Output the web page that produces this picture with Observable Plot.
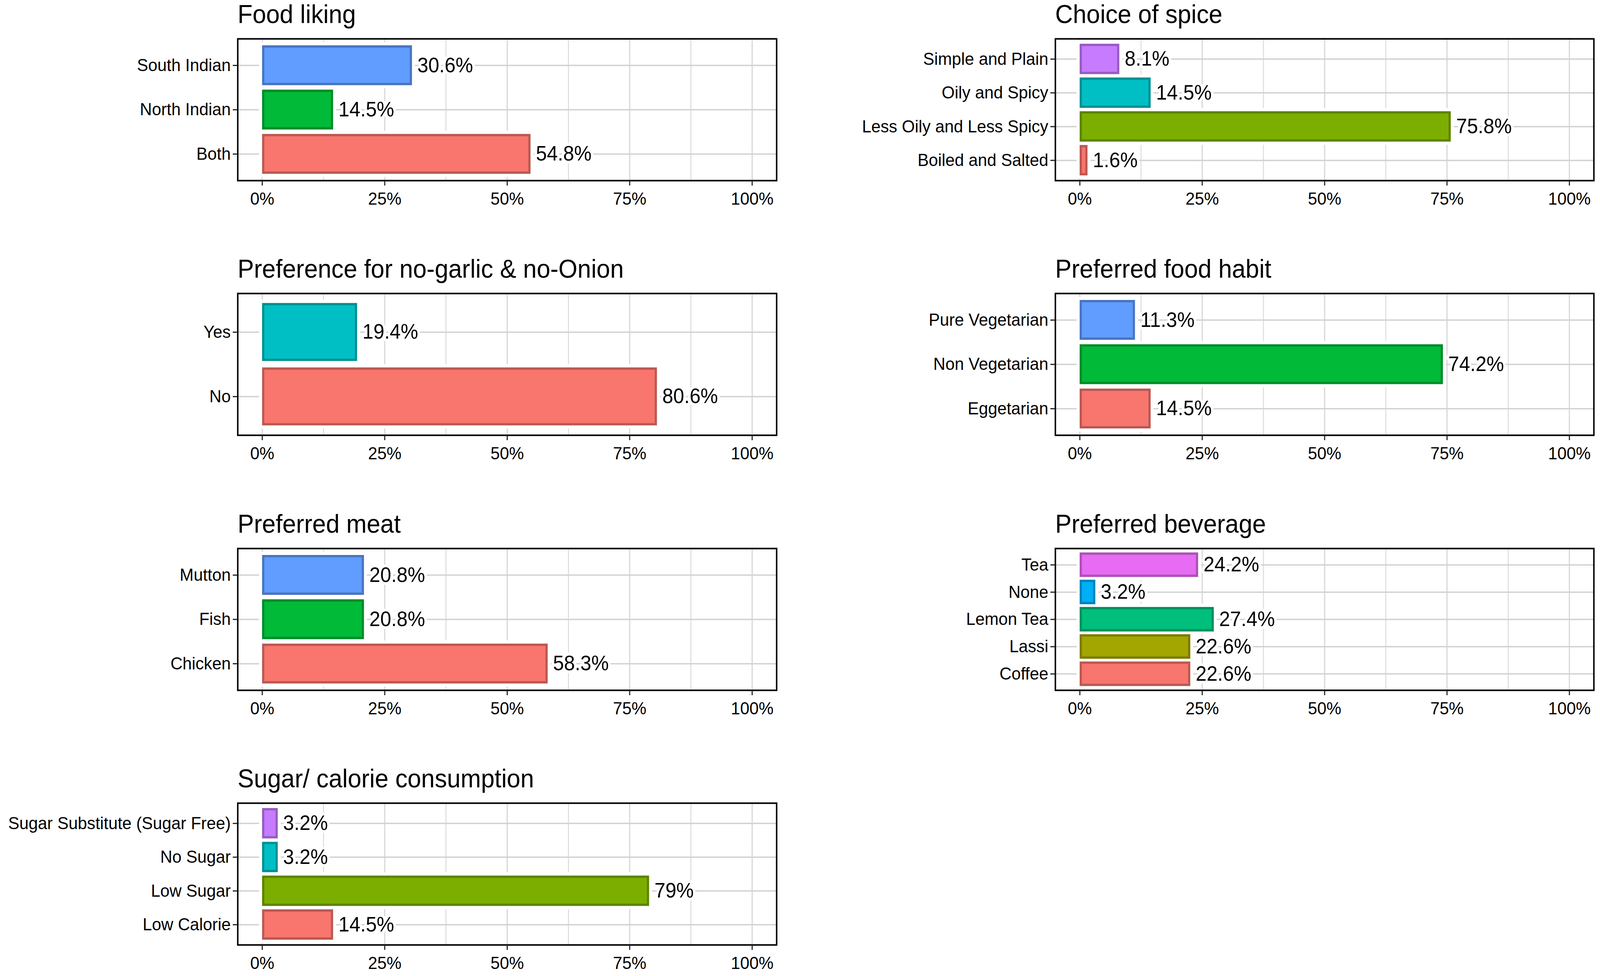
<!DOCTYPE html>
<html><head><meta charset="utf-8">
<script src="https://cdn.jsdelivr.net/npm/d3@7"></script>
<script src="https://cdn.jsdelivr.net/npm/@observablehq/plot@0.6"></script>
<style>
html,body{margin:0;padding:0;background:#fff;overflow:hidden;}
#root{position:relative;width:4317px;height:2499px;overflow:hidden;font-family:"Liberation Sans",Arial,sans-serif;background:#fff;transform-origin:0 0;}
.title{position:absolute;font-size:66px;line-height:1;color:#000;white-space:nowrap;}
.panel{position:absolute;}
</style></head><body><div id="root"></div>
<script>
// ---- data ----
const foodLikingCats = ["South Indian", "North Indian", "Both"];
const foodLikingVals = [30.6, 14.5, 54.8];

const spiceCats = ["Simple and Plain", "Oily and Spicy", "Less Oily and Less Spicy", "Boiled and Salted"];
const spiceVals = [8.1, 14.5, 75.8, 1.6];

const garlicCats = ["Yes", "No"];
const garlicVals = [19.4, 80.6];

const habitCats = ["Pure Vegetarian", "Non Vegetarian", "Eggetarian"];
const habitVals = [11.3, 74.2, 14.5];

const meatCats = ["Mutton", "Fish", "Chicken"];
const meatVals = [20.8, 20.8, 58.3];

const beverageCats = ["Tea", "None", "Lemon Tea", "Lassi", "Coffee"];
const beverageVals = [24.2, 3.2, 27.4, 22.6, 22.6];

const sugarCats = ["Sugar Substitute (Sugar Free)", "No Sugar", "Low Sugar", "Low Calorie"];
const sugarVals = [3.2, 3.2, 79, 14.5];

const xTicks = [0, 25, 50, 75, 100];
const xMinor = [12.5, 37.5, 62.5, 87.5];

// ggplot default hue palettes (by number of levels, alphabetical order)
const huePalettes = {
  2: ["#F8766D", "#00BFC4"],
  3: ["#F8766D", "#00BA38", "#619CFF"],
  4: ["#F8766D", "#7CAE00", "#00BFC4", "#C77CFF"],
  5: ["#F8766D", "#A3A500", "#00BF7D", "#00B0F6", "#E76BF3"]
};

const panels = [
  {title: "Food liking", cats: foodLikingCats, vals: foodLikingVals, col: 0, row: 0},
  {title: "Choice of spice", cats: spiceCats, vals: spiceVals, col: 1, row: 0},
  {title: "Preference for no-garlic & no-Onion", cats: garlicCats, vals: garlicVals, col: 0, row: 1},
  {title: "Preferred food habit", cats: habitCats, vals: habitVals, col: 1, row: 1},
  {title: "Preferred meat", cats: meatCats, vals: meatVals, col: 0, row: 2},
  {title: "Preferred beverage", cats: beverageCats, vals: beverageVals, col: 1, row: 2},
  {title: "Sugar/ calorie consumption", cats: sugarCats, vals: sugarVals, col: 0, row: 3}
];

// ---- layout (in 4317 x 2499 design space) ----
const rowBoxTop = [99, 751, 1404, 2056];
const boxH = 363;
const colLayout = [
  {left: 0, width: 2158, marginLeft: 641, marginRight: 63},
  {left: 2158, width: 2159, marginLeft: 689, marginRight: 17}
];
const mTop = 20, mBottom = 80;
const FONT = "'Liberation Sans', Arial, sans-serif";

const root = document.getElementById("root");
// fit the design width into the actual viewport width
const sx = Math.min(1, (window.innerWidth || 4317) / 4317);
const sy = Math.min(1, (window.innerHeight || 2499) / 2499);
root.style.transform = `scale(${sx}, ${sy})`;

for (const p of panels) {
  const cl = colLayout[p.col];
  const boxTop = rowBoxTop[p.row];
  const sorted = [...p.cats].sort((a, b) => a.localeCompare(b));
  const pal = huePalettes[p.cats.length];
  const colorOf = c => pal[sorted.indexOf(c)];
  const data = p.cats.map((c, i) => ({cat: c, val: p.vals[i], color: colorOf(c), edge: d3.color(colorOf(c)).darker(0.8).formatHex()}));

  const title = document.createElement("div");
  title.className = "title";
  title.textContent = p.title;
  title.style.left = (cl.left + cl.marginLeft) + "px";
  title.style.top = (boxTop - 40 - 56) + "px";
  root.appendChild(title);

  const chart = Plot.plot({
    width: cl.width,
    height: mTop + boxH + mBottom,
    marginLeft: cl.marginLeft,
    marginRight: cl.marginRight,
    marginTop: mTop,
    marginBottom: mBottom,
    style: {fontFamily: FONT, fontSize: "45px", background: "white", color: "black", overflow: "visible", maxWidth: "none"},
    x: {domain: [-5, 105], label: null},
    y: {domain: p.cats, paddingInner: 0.1, paddingOuter: 0.15, round: false, label: null},
    color: {type: "identity"},
    marks: [
      Plot.gridX(xMinor, {stroke: "#dadada", strokeOpacity: 1, strokeWidth: 2.5}),
      Plot.gridX(xTicks, {stroke: "#d6d6d6", strokeOpacity: 1, strokeWidth: 3}),
      Plot.gridY({stroke: "#d2d2d2", strokeOpacity: 1, strokeWidth: 3.5}),
      Plot.barX(data, {x1: 0, x2: "val", y: "cat", fill: "white", stroke: "white", strokeWidth: 16}),
      Plot.barX(data, {x1: 0, x2: "val", y: "cat", fill: "color", stroke: "edge", strokeWidth: 6, inset: 3}),
      Plot.text(data, {x: "val", y: "cat", text: d => d.val + "%", dx: 14, textAnchor: "start", fontSize: 53, fill: "black", stroke: "white", strokeWidth: 14}),
      Plot.frame({stroke: "black", strokeWidth: 4}),
      Plot.axisX({ticks: xTicks, tickFormat: d => d + "%", tickSize: 13, tickPadding: 17, fontSize: 45, strokeWidth: 3, stroke: "#222", fill: "black", label: null}),
      Plot.axisY({tickSize: 13, tickPadding: 6, fontSize: 45, strokeWidth: 3, stroke: "#222", fill: "black", label: null})
    ]
  });
  const holder = document.createElement("div");
  holder.className = "panel";
  holder.style.left = cl.left + "px";
  holder.style.top = (boxTop - mTop) + "px";
  holder.appendChild(chart);
  root.appendChild(holder);
}
</script></body></html>
